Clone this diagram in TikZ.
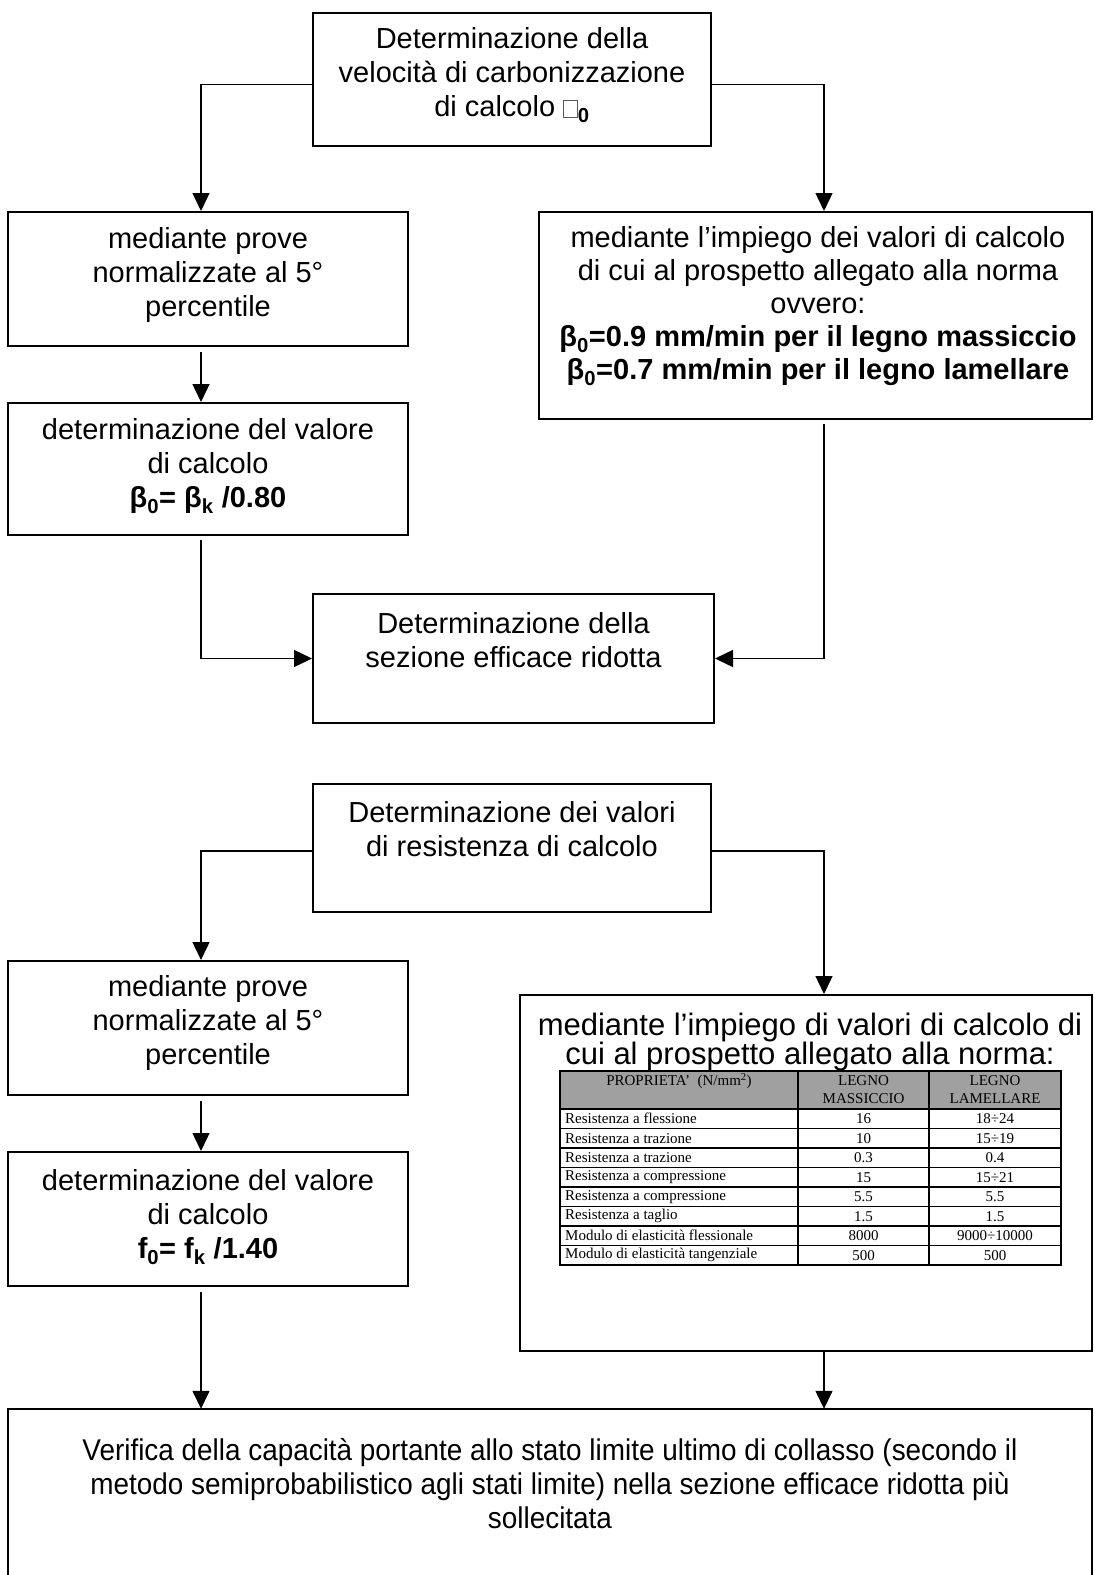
\documentclass[tikz,border=0pt]{standalone}
\usepackage{fontspec}
\setmainfont{Liberation Sans}
\newfontfamily\narrowfont{Liberation Sans}[FakeStretch=0.93]
\newfontfamily\tabfont{Liberation Serif}
\usepackage{xcolor}
\usetikzlibrary{arrows.meta}

\definecolor{headgray}{RGB}{160,160,160}
\definecolor{glyphgray}{RGB}{90,90,90}

% empty glyph box as printed in the source
\newcommand{\nobeta}{{\color{glyphgray}\setlength{\fboxsep}{0pt}\setlength{\fboxrule}{0.8pt}\fbox{\rule{0pt}{16pt}\hspace{13pt}}}}

\begin{document}
\begin{tikzpicture}[x=1pt,y=1pt,yscale=-1,
  box/.style={draw, line width=2pt, inner sep=0pt},
  txt/.style={align=center, inner sep=0pt, font=\fontsize{29}{34}\selectfont},
  arr/.style={-{Triangle[length=18pt,width=17pt]}, line width=1.4pt},
  tabrule/.style={line width=1.8pt},
  cell/.style={inner sep=0pt, font=\tabfont\fontsize{15}{18}\selectfont}]
\useasboundingbox (0,0) rectangle (1095,1575);

\coordinate (colL) at (201,0);
\coordinate (colR) at (824,0);

% upper chart
\node[box, minimum width=398pt, minimum height=133pt] (vel) at (512,79.5) {};
\node[box, minimum width=400pt, minimum height=134pt] (prove1) at (208,279) {};
\node[box, minimum width=400pt, minimum height=132pt] (calc1) at (208,469) {};
\node[box, minimum width=553pt, minimum height=207pt] (imp1) at (815.5,315.5) {};
\node[box, minimum width=401pt, minimum height=129pt] (sez) at (513.5,658.5) {};

% Text Node
\node[txt] (velt) at (512,75) {Determinazione della\\velocità di carbonizzazione\\di calcolo \nobeta\textsubscript{\textbf{0}}};
\node[txt] (prove1t) at (208,275) {mediante prove\\normalizzate al 5°\\percentile};
\node[txt] (calc1t) at (208,466) {determinazione del valore\\di calcolo\\\textbf{β\textsubscript{0}= β\textsubscript{k} /0.80}};
\node[txt, font=\fontsize{29}{33}\selectfont] (imp1t) at (818,306) {mediante l’impiego dei valori di calcolo\\di cui al prospetto allegato alla norma\\ovvero:\\\textbf{β\textsubscript{0}=0.9 mm/min per il legno massiccio}\\\textbf{β\textsubscript{0}=0.7 mm/min per il legno lamellare}};
\node[txt] (sezt) at (513.5,640) {Determinazione della\\sezione efficace ridotta};

\draw[arr] ([yshift=5pt]vel.west) -| (colL |- prove1.north);
\draw[arr] ([yshift=5pt]vel.east) -| (colR |- imp1.north);
\draw[arr, shorten <=5pt] (colL |- prove1.south) -- (colL |- calc1.north);
\draw[arr, shorten <=4pt] (colL |- calc1.south) |- (sez.west);
\draw[arr, shorten <=4pt] (colR |- imp1.south) |- (sez.east);

% lower chart
\node[box, minimum width=398pt, minimum height=128pt] (res) at (512,848) {};
\node[box, minimum width=400pt, minimum height=134pt] (prove2) at (208,1028) {};
\node[box, minimum width=400pt, minimum height=134pt] (calc2) at (208,1219) {};
\node[box, minimum width=572pt, minimum height=356pt] (imp2) at (806,1173) {};
% last box runs past the lower edge of the page
\node[inner sep=0pt, minimum width=1084pt, minimum height=260pt] (verif) at (550,1539) {};
\draw[line width=2pt] (verif.south west) -- (verif.north west) -- (verif.north east) -- (verif.south east);

% Text Node
\node[txt] (rest) at (512,829) {Determinazione dei valori\\di resistenza di calcolo};
\node[txt] (prove2t) at (208,1023) {mediante prove\\normalizzate al 5°\\percentile};
\node[txt] (calc2t) at (208,1217) {determinazione del valore\\di calcolo\\\textbf{f\textsubscript{0}= f\textsubscript{k} /1.40}};
\node[txt, font=\fontsize{31}{29.5}\selectfont] (imp2t) at (810,1042) {mediante l’impiego di valori di calcolo di\\cui al prospetto allegato alla norma:};
\node[txt, font=\narrowfont\fontsize{30}{34}\selectfont] (verift) at (550,1484) {Verifica della capacità portante allo stato limite ultimo di collasso (secondo il\\metodo semiprobabilistico agli stati limite) nella sezione efficace ridotta più\\sollecitata};

\draw[arr] ([yshift=3pt]res.west) -| (colL |- prove2.north);
\draw[arr] ([yshift=3pt]res.east) -| (colR |- imp2.north);
\draw[arr, shorten <=5pt] (colL |- prove2.south) -- (colL |- calc2.north);
\draw[arr, shorten <=5pt] (colL |- calc2.south) -- (colL |- verif.north);
\draw[arr] (colR |- imp2.south) -- (colR |- verif.north);

% table of design values
\fill[headgray] (560,1071) rectangle (1061,1109);
\draw[tabrule] (560,1071) rectangle (1061,1265);
\foreach \r in {0,...,7}
  \draw[tabrule] (560,{1109+19.5*\r}) -- (1061,{1109+19.5*\r});
\draw[tabrule] (798,1071) -- (798,1265);
\draw[tabrule] (929,1071) -- (929,1265);

\node[cell] (hprop) at (679,1081) {PROPRIETA’\ \ (N/mm\textsuperscript{2})};
\node[cell, align=center] (hmas) at (863.5,1090) {LEGNO\\MASSICCIO};
\node[cell, align=center] (hlam) at (995,1090) {LEGNO\\LAMELLARE};

\foreach \prop/\mas/\lam [count=\r] in {Resistenza a flessione/16/18÷24,
    Resistenza a trazione/10/15÷19, Resistenza a trazione/0.3/0.4,
    Resistenza a compressione/15/15÷21, Resistenza a compressione/5.5/5.5,
    Resistenza a taglio/1.5/1.5, Modulo di elasticità flessionale/8000/9000÷10000,
    Modulo di elasticità tangenziale/500/500}
{
  \node[cell, anchor=west] (prop\r) at (565,{1109+19.5*\r-9.75}) {\prop};
  \node[cell] (mas\r) at (863.5,{1109+19.5*\r-9.75}) {\mas};
  \node[cell] (lam\r) at (995,{1109+19.5*\r-9.75}) {\lam};
}

\end{tikzpicture}
\end{document}
